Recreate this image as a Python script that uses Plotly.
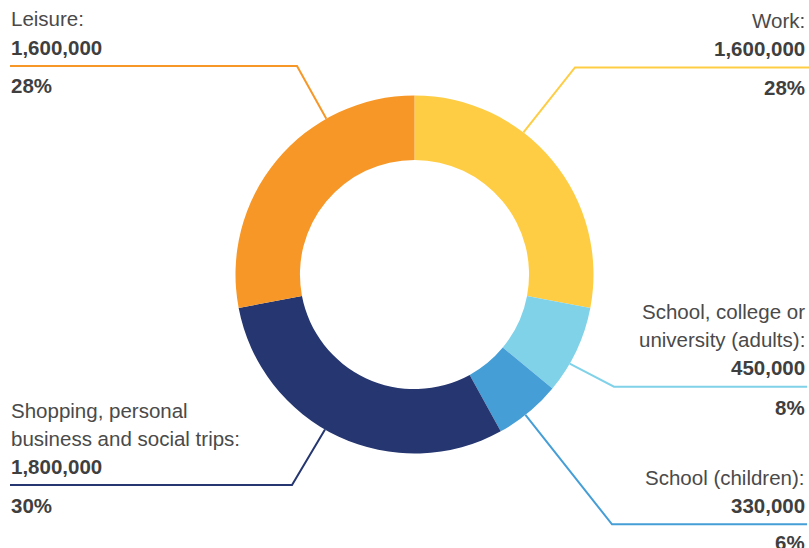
import math
import plotly.graph_objects as go

# ---- data ----
categories = ["Work", "School, college or university (adults)", "School (children)",
              "Shopping, personal business and social trips", "Leisure"]
trips = [1600000, 450000, 330000, 1800000, 1600000]
percent_share = [28, 8, 6, 30, 28]
value_labels = ["1,600,000", "450,000", "330,000", "1,800,000", "1,600,000"]
name_lines = [["Work:"], ["School, college or", "university (adults):"], ["School (children):"],
              ["Shopping, personal", "business and social trips:"], ["Leisure:"]]
colors = ["#FFCD44", "#80D2E9", "#469ED7", "#253670", "#F79727"]

# ---- layout ----
W, H = 809, 548
CX, CY, R = 414.5, 274.5, 179.0
HOLE = 0.64

def px(x):
    return x / W

def py(y):
    return 1 - y / H

fig = go.Figure(go.Pie(
    labels=categories, values=percent_share, customdata=trips, sort=False,
    direction="clockwise", rotation=0,
    hole=HOLE, marker=dict(colors=colors, line=dict(width=0)),
    textinfo="none", hovertemplate="%{label}: %{customdata:,}<extra></extra>", showlegend=False,
    domain=dict(x=[px(CX - R), px(CX + R)], y=[py(CY + R), py(CY - R)]),
))

# leader line geometry: anchor angle on ring (deg clockwise from top), elbow point, line end x, side
leaders = [
    dict(ang=37.5, elbow=(575, 67.5), end=809, side="right", pct_off=20),
    dict(ang=119.9, elbow=(614, 386.7), end=807, side="right", pct_off=21),
    dict(ang=141.7, elbow=(612, 524.3), end=807, side="right", pct_off=18),
    dict(ang=210.0, elbow=(292, 485), end=10, side="left", pct_off=20),
    dict(ang=330.5, elbow=(297, 66), end=10, side="left", pct_off=20),
]

FONT = "Liberation Sans, Arial, sans-serif"
FS = 20.5
REG = "#4a4a4a"
BOLD = "#3f3f3f"
LS = 28  # line spacing px

shapes = []
annotations = []
for i, ld in enumerate(leaders):
    a = math.radians(ld["ang"])
    sx = CX + R * math.sin(a)
    sy = CY - R * math.cos(a)
    ex, ey = ld["elbow"]
    shapes.append(dict(type="path", xref="paper", yref="paper",
                       path=f"M {px(sx)} {py(sy)} L {px(ex)} {py(ey)} L {px(ld['end'])} {py(ey)}",
                       line=dict(color=colors[i], width=2)))
    if ld["side"] == "right":
        tx, xa = 807, "right"
    else:
        tx, xa = 9, "left"
    ly = ey
    val_y = ly - 19
    lines = name_lines[i]
    for k, t in enumerate(lines):
        yy = val_y - LS * (len(lines) - k)
        annotations.append(dict(x=px(tx), y=py(yy), xref="paper", yref="paper", text=t,
                                xanchor=xa, yanchor="middle", showarrow=False,
                                font=dict(family=FONT, size=FS, color=REG)))
    annotations.append(dict(x=px(tx), y=py(val_y), xref="paper", yref="paper",
                            text=f"<b>{value_labels[i]}</b>", xanchor=xa, yanchor="middle",
                            showarrow=False, font=dict(family=FONT, size=FS, color=BOLD)))
    annotations.append(dict(x=px(tx), y=py(ly + ld["pct_off"]), xref="paper", yref="paper",
                            text=f"<b>{percent_share[i]}%</b>", xanchor=xa, yanchor="middle",
                            showarrow=False, font=dict(family=FONT, size=FS, color=BOLD)))

fig.update_layout(width=W, height=H, margin=dict(l=0, r=0, t=0, b=0),
                  paper_bgcolor="white", plot_bgcolor="white",
                  shapes=shapes, annotations=annotations)

fig.write_html("out.html")
